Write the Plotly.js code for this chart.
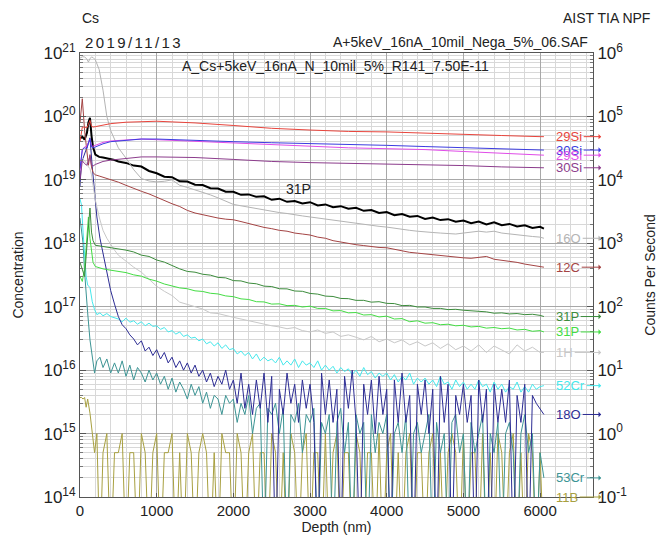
<!DOCTYPE html>
<html><head><meta charset="utf-8">
<script src="https://cdn.plot.ly/plotly-3.0.1.min.js"></script>
<style>html,body{margin:0;padding:0;background:#fff}</style>
</head><body><div id="chart" style="width:669px;height:536px"></div>
<script>
// ---------- data ----------
const depthN = [0,20,40,60,80,100,130,160,190,220,260,300,350,400,450,
500,550,600,650,700,750,800,850,900,950,
1000,1050,1100,1150,1200,1250,1300,1350,1400,1450,
1500,1550,1600,1650,1700,1750,1800,1850,1900,1950,
2000,2050,2100,2150,2200,2250,2300,2350,2400,2450,
2500,2550,2600,2650,2700,2750,2800,2850,2900,2950,
3000,3050,3100,3150,3200,3250,3300,3350,3400,3450,
3500,3550,3600,3650,3700,3750,3800,3850,3900,3950,
4000,4050,4100,4150,4200,4250,4300,4350,4400,4450,
4500,4550,4600,4650,4700,4750,4800,4850,4900,4950,
5000,5050,5100,5150,5200,5250,5300,5350,5400,5450,
5500,5550,5600,5650,5700,5750,5800,5850,5900,5950,
6000,6050];

const o18 = [8000,2e4,2.2e4,2.5e4,3e4,3.5e4,4.6e4,1.6e4,6000,2600,1200,700,380,180,110,
70,52,45,36,31,25,29,20,23,17,
21,15,19,13,16,11,14,10,13,9,
12,8,10,6.5,9,5.5,8,6,10,5,
7,3,9,2.5,6,2,7,2.5,9,1.5,
8,0.01,5,2,9,3,6,1.5,7,2.5,
6,1.5,0.01,9,2,7,1.5,5,0.01,8,
2.5,10,1.5,0.01,6,2,7,1,8,2,
5,0.01,7,1.5,9,1.5,4,0.01,6,2,
7,1,5,0.01,8,1.5,6,0.01,4,2,
6,1.5,4,0.01,7,1.5,5,0.01,6,1.5,
5,1.5,7,0.01,4,1.5,6,0.01,4,3,
2.5,2];

const cr53 = [2500,1600,1000,350,150,80,30,16,9,14,16,11,15,9,13,
9,14,8,12,7,11,9,6.5,10,7,
9,6,8,5,7.5,4.5,6.5,5,3.5,6,
4,5.5,3,4.5,2.5,4,3.5,2,4,3,
3.5,1.5,3,2,4,1,2.5,3,0.01,2.5,
2,3,1,2.5,0.01,2,1.5,3,0.5,2,
1.5,2.5,0.01,1.5,1,2,0.01,1.5,2.5,0.5,
1.5,0.01,2,1,1.5,0.01,2,0.5,1.5,1,
2,0.01,1,1.5,0.5,2,0.01,1,1.5,0.5,
1,2,0.01,1.5,0.5,1,0.01,1.5,2,0.5,
1,0.01,1.5,0.5,1,2,0.01,1,0.5,1.5,
0.01,1,1.5,0.5,0.01,1,2,0.5,1,0.01,
0.5,0.2];

const b11 = [3.7,3.7,3.5,3.7,2.6,3.5,2.1,1,0.5,1,0.01,0.5,1,0.01,0.5,
0.5,1,0.01,0.5,0.5,0.01,1,0.5,0.01,0.5,
1,0.01,0.5,0.5,1,0.01,0.5,0.01,1,0.5,
0.01,0.5,1,0.5,0.01,0.5,0.01,1,0.5,0.5,
0.01,1,0.5,0.01,0.5,1,0.01,0.5,0.5,0.01,
1,0.5,0.01,0.5,0.01,1,0.5,0.01,0.5,1,
0.01,0.5,0.5,0.01,1,0.01,0.5,1,0.01,0.5,
0.5,0.01,1,0.5,0.01,0.5,0.5,0.01,1,0.01,
0.5,1,0.01,0.5,0.01,0.5,1,0.01,0.5,0.5,
0.01,0.5,1,0.01,0.5,0.01,0.5,1,0.5,0.01,
1,0.01,0.5,0.5,0.01,1,0.01,0.5,0.01,1,
0.5,0.01,0.5,1,0.01,0.5,0.01,1,0.5,0.01,
0.5,0.01];

const cr52 = [5000,4000,1500,600,300,220,200,120,90,75,80,72,78,70,66,
64,58,66,57,60,53,58,50,55,49,
50,44,47,40,42,37,40,34,36,32,
33,29,31,26,28,24,27,22,25,21,
22,18,20,17,19,15,18,14,16,14,
15,13,16,12,14,12,15,11,14,12,
13,11,14,10,12,10,11.5,9,11,9.5,
10.5,8.5,10,8,11,8.5,9.5,7.5,9,8,
9,7,8.5,6.5,8,7,9,6,7.5,6.5,
7.5,6,7,5.5,8,6,6.5,5,7,5.5,
6.5,5,6,5,7,5.5,6,4.5,6.5,5,
6,4.5,5.5,5,6.5,4.5,5.5,4.5,6,5,
5.5,5.7];

const depthM = [0,30,60,90,110,130,150,170,200,250,300,350,400,450,500,
600,700,800,900,1000,1100,1200,1300,1400,1500,
1600,1700,1800,1900,2000,2100,2200,2300,2400,2500,
2600,2700,2800,2900,3000,3100,3200,3300,3400,3500,
3600,3700,3800,3900,4000,4100,4200,4300,4400,4500,
4600,4700,4800,4900,5000,5100,5200,5300,5400,5500,
5600,5700,5800,5900,6000,6050];

const p31conc = [4.5e19,4.8e19,4.3e19,5.5e19,8e19,9.5e19,5e19,3.3e19,2.5e19,2.3e19,2.25e19,2.2e19,2.15e19,2.05e19,1.95e19,
1.85e19,1.68e19,1.62e19,1.38e19,1.27e19,1.12e19,1.1e19,9.5e18,9.4e18,8.4e18,
8.3e18,7.4e18,7.3e18,6.5e18,6.5e18,5.8e18,5.9e18,5.4e18,5.5e18,4.85e18,
5.05e18,4.5e18,4.65e18,4.25e18,4.45e18,3.95e18,4.1e18,3.7e18,3.85e18,3.5e18,
3.62e18,3.25e18,3.35e18,3.0e18,3.1e18,2.78e18,2.9e18,2.62e18,2.7e18,2.42e18,
2.55e18,2.32e18,2.4e18,2.18e18,2.28e18,2.08e18,2.2e18,1.98e18,2.15e18,1.93e18,
2.02e18,1.84e18,1.92e18,1.74e18,1.82e18,1.7e18];

const o16 = [8.3e5,8.7e5,8.7e5,8.0e5,7.2e5,8.2e5,8.6e5,8.5e5,7.8e5,5.5e5,2.6e5,1.0e5,6e4,4.3e4,3.2e4,
2.2e4,1.45e4,1.05e4,9.6e3,9.3e3,9.5e3,1.0e4,8.2e3,7.6e3,7.0e3,
6.4e3,5.8e3,5.2e3,4.6e3,4.1e3,3.9e3,3.7e3,3.5e3,3.3e3,3.2e3,
3.05e3,2.95e3,2.8e3,2.7e3,2.6e3,2.5e3,2.4e3,2.3e3,2.2e3,2.15e3,
2.05e3,2.0e3,1.9e3,1.85e3,1.8e3,1.72e3,1.65e3,1.6e3,1.55e3,1.5e3,
1.48e3,1.45e3,1.42e3,1.4e3,1.45e3,1.5e3,1.55e3,1.5e3,1.55e3,1.45e3,
1.4e3,1.35e3,1.3e3,1.28e3,1.25e3,1.2e3];

const c12 = [8e4,1.9e5,6e4,2.5e4,1.7e4,2.5e4,1.6e4,1.3e4,1.2e4,1.15e4,1.1e4,1.07e4,1.03e4,9.6e3,9.2e3,
8.2e3,7.3e3,6.6e3,6.0e3,5.3e3,4.8e3,4.2e3,3.8e3,3.3e3,3.0e3,
2.8e3,2.65e3,2.5e3,2.4e3,2.35e3,2.2e3,2.05e3,1.9e3,1.78e3,1.7e3,
1.6e3,1.55e3,1.45e3,1.4e3,1.35e3,1.25e3,1.2e3,1.1e3,1.05e3,980,
950,920,880,860,850,800,760,720,700,680,
650,630,610,600,590,580,600,620,560,540,
520,500,470,450,430,420];

const p31a = [500,400,300,900,2000,3600,1500,1100,930,910,890,880,860,840,820,
780,730,650,620,545,505,440,395,360,350,
325,315,290,285,258,255,236,230,211,208,
192,191,177,175,162,158,147,145,135,134,
126,126,118,120,113,112,104,105,99,99,
94,94,90,91,88,87,84,83,79,80,
77,78,75,76,73,70];

const p31b = [300,250,400,1500,2600,1200,700,500,430,410,395,385,375,365,355,
345,318,303,272,253,228,214,198,192,178,
174,163,159,148,144,133,130,120,119,110,
111,104,105,99,102,94,94,86,87,80,
81,74,75,69,71,64,65,58,60,55,
56,52,53,50,51,48,49,46,47,45,
46,43,44,41,42,40];

const h1 = [2e4,2.2e4,2e4,1.8e4,1.6e4,1.5e4,1.2e4,8e3,4.8e3,2.6e3,1.6e3,1.2e3,950,780,650,
520,420,350,270,210,175,150,118,110,100,
92,80,78,72,68,64,60,57,52,50,
48,45,47,42,40,43,38,40,34,36,
33,30,34,28,31,27,30,25,28,24,
27,22,26,21,24,20,25,19,24,21,
18,25,20,23,19,19];

const depthSi = [0,30,60,90,110,130,150,170,200,300,400,600,800,1000,1200,1500,2000,2500,3000,3500,4000,4500,5000,5500,6000,6050];
const si29 = [4e4,6.8e4,6.8e4,6.6e4,7.5e4,8.7e4,7.0e4,6.8e4,6.9e4,7.3e4,7.7e4,8.1e4,8.3e4,8.4e4,8.2e4,7.9e4,7.2e4,6.5e4,6.1e4,5.8e4,5.7e4,5.5e4,5.3e4,5.0e4,4.8e4,4.8e4];
const si30 = [1.5e4,3.0e4,3.2e4,3.1e4,3.8e4,4.4e4,3.3e4,3.2e4,3.3e4,3.7e4,4.0e4,4.2e4,4.4e4,4.4e4,4.3e4,4.2e4,4.0e4,3.85e4,3.75e4,3.65e4,3.5e4,3.35e4,3.2e4,3.05e4,2.95e4,2.95e4];
const si29b = [1.4e4,3.0e4,3.3e4,3.4e4,3.9e4,4.4e4,3.4e4,3.4e4,3.5e4,3.9e4,4.1e4,4.3e4,4.4e4,4.3e4,4.2e4,4.1e4,3.8e4,3.55e4,3.35e4,3.2e4,3.1e4,3.0e4,2.8e4,2.6e4,2.45e4,2.45e4];
const si30b = [1.0e4,2.0e4,1.8e4,1.7e4,2.0e4,2.4e4,1.7e4,1.65e4,1.75e4,1.95e4,2.05e4,2.2e4,2.3e4,2.3e4,2.3e4,2.25e4,2.1e4,1.95e4,1.87e4,1.82e4,1.78e4,1.75e4,1.68e4,1.6e4,1.55e4,1.55e4];

const xTicks = [0,1000,2000,3000,4000,5000,6000];

// ---------- styles ----------
const FONT = 'Liberation Sans, Arial, sans-serif';
const C = {
  si29:'#e8443c', si30:'#3c3ce0', si29b:'#e04ce8', si30b:'#8c3c8c',
  o16:'#b4b4b4', c12:'#a44444', p31a:'#3c8c3c', p31b:'#44dd44', h1:'#c8c8c8',
  cr52:'#44e8ec', o18:'#2c2c94', cr53:'#3c9494', b11:'#a8a040', p31:'#000000'
};

// series on the counts axis, drawn bottom to top
const cps = [
  {name:'11B',  x:depthN, y:b11,  c:C.b11},
  {name:'53Cr', x:depthN, y:cr53, c:C.cr53},
  {name:'52Cr', x:depthN, y:cr52, c:C.cr52},
  {name:'18O',  x:depthN, y:o18,  c:C.o18},
  {name:'1H',   x:depthM, y:h1,   c:C.h1},
  {name:'31P',  x:depthM, y:p31b, c:C.p31b},
  {name:'31P',  x:depthM, y:p31a, c:C.p31a},
  {name:'12C',  x:depthM, y:c12,  c:C.c12},
  {name:'16O',  x:depthM, y:o16,  c:C.o16},
  {name:'30Si', x:depthSi, y:si30b, c:C.si30b},
  {name:'29Si', x:depthSi, y:si29b, c:C.si29b},
  {name:'30Si', x:depthSi, y:si30,  c:C.si30},
  {name:'29Si', x:depthSi, y:si29,  c:C.si29}
];

const traces = cps.map(s => ({
  type:'scatter', mode:'lines', x:s.x, y:s.y, yaxis:'y2', name:s.name,
  line:{color:s.c, width:1}, hoverinfo:'skip'
}));
traces.push({type:'scatter', mode:'lines', x:depthM, y:p31conc, yaxis:'y', name:'31P',
  line:{color:C.p31, width:2}, hoverinfo:'skip'});

// ticks
const supTxt = n => '10<sup>' + n + '</sup>';
const yVals=[], yTxt=[], yMinor=[];
for (let e=14;e<=21;e++){ yVals.push(Math.pow(10,e)); yTxt.push(supTxt(e)); if(e<21) for(let m=2;m<=9;m++) yMinor.push(m*Math.pow(10,e)); }
const y2Vals=[], y2Txt=[], y2Minor=[];
for (let e=-1;e<=6;e++){ y2Vals.push(Math.pow(10,e)); y2Txt.push(supTxt(e)); if(e<6) for(let m=2;m<=9;m++) y2Minor.push(m*Math.pow(10,e)); }

// right-hand labels with arrows (order top to bottom)
const labelOrder = [
  ['29Si', si29, C.si29], ['30Si', si30, C.si30], ['29Si', si29b, C.si29b], ['30Si', si30b, C.si30b],
  ['16O', o16, C.o16], ['12C', c12, C.c12], ['31P', p31a, C.p31a], ['31P', p31b, C.p31b],
  ['1H', h1, C.h1], ['52Cr', cr52, C.cr52], ['18O', o18, C.o18], ['53Cr', cr53, C.cr53], ['11B', b11, C.b11]
];
const ann = labelOrder.map(([t, arr, col]) => ({
  xref:'paper', yref:'y2', x:1.016, y:Math.log10(Math.max(arr[arr.length-1], 0.1)),
  ax:-47, ay:0, xanchor:'left', yanchor:'middle', text:t,
  font:{family:FONT, size:13, color:col},
  showarrow:true, arrowhead:1, arrowsize:0.9, arrowwidth:1, arrowcolor:col, standoff:0
}));
ann.push(
  {xref:'x', yref:'y', x:2850, y:Math.log10(7.2e18), text:'31P', showarrow:false, font:{family:FONT,size:14,color:'#222'}},
  {xref:'paper', yref:'paper', x:0, y:1.079, xanchor:'left', yanchor:'middle', text:'Cs', showarrow:false, font:{family:FONT,size:14,color:'#222'}},
  {xref:'paper', yref:'paper', x:1.115, y:1.079, xanchor:'right', yanchor:'middle', text:'AIST TIA NPF', showarrow:false, font:{family:FONT,size:14,color:'#222'}},
  {xref:'paper', yref:'paper', x:0.030, y:1.024, xanchor:'left', yanchor:'middle', text:'2019/11/13', showarrow:false, font:{family:FONT,size:15,color:'#222'}},
  {xref:'paper', yref:'paper', x:0.994, y:1.024, xanchor:'right', yanchor:'middle', text:'A+5keV_16nA_10mil_Nega_5%_06.SAF', showarrow:false, font:{family:FONT,size:14,color:'#222'}},
  {xref:'paper', yref:'paper', x:0.195, y:0.971, xanchor:'left', yanchor:'middle', text:'A_Cs+5keV_16nA_N_10mil_5%_R141_7.50E-11', showarrow:false, font:{family:FONT,size:14,color:'#222'}}
);

const layout = {
  width:669, height:536,
  margin:{l:80, r:76, t:53, b:39},
  paper_bgcolor:'#ffffff', plot_bgcolor:'#ffffff',
  showlegend:false,
  font:{family:FONT, size:14, color:'#222'},
  xaxis:{
    range:[0,6690], tickmode:'array', tickvals:xTicks, ticks:'inside', ticklen:4, tickcolor:'#555',
    tickfont:{size:15, color:'#222'},
    showgrid:true, gridcolor:'#a8a8a8', gridwidth:1,
    minor:{dtick:200, tick0:0, showgrid:true, gridcolor:'#d8d8d8', gridwidth:1},
    showline:true, linecolor:'#555', linewidth:1, mirror:true, zeroline:false,
    title:{text:'Depth (nm)', font:{size:14}, standoff:2}
  },
  yaxis:{
    type:'log', range:[14,21], tickmode:'array', tickvals:yVals, ticktext:yTxt,
    tickfont:{size:17, color:'#222'}, ticks:'inside', ticklen:6, tickcolor:'#555',
    showgrid:true, gridcolor:'#a8a8a8', gridwidth:1,
    minor:{tickmode:'array', tickvals:yMinor, showgrid:true, gridcolor:'#d8d8d8', ticks:'inside', ticklen:3, tickcolor:'#777'},
    showline:true, linecolor:'#555', linewidth:1, zeroline:false,
    title:{text:'Concentration', font:{size:14}, standoff:16}
  },
  yaxis2:{
    type:'log', range:[-1,6], overlaying:'y', side:'right', tickmode:'array', tickvals:y2Vals, ticktext:y2Txt,
    tickfont:{size:17, color:'#222'}, ticks:'inside', ticklen:6, tickcolor:'#555',
    showgrid:false,
    minor:{tickmode:'array', tickvals:y2Minor, showgrid:false, ticks:'inside', ticklen:3, tickcolor:'#777'},
    showline:true, linecolor:'#555', linewidth:1, zeroline:false,
    title:{text:'Counts Per Second', font:{size:14}, standoff:18}
  },
  annotations:ann
};

Plotly.newPlot('chart', traces, layout, {staticPlot:true, displayModeBar:false}).then(() => {
  // widen the spacing of the date text as in the original print
  document.querySelectorAll('.annotation-text').forEach(el => {
    if (el.textContent === '2019/11/13') el.style.letterSpacing = '2.4px';
  });
});
</script>
</body></html>
